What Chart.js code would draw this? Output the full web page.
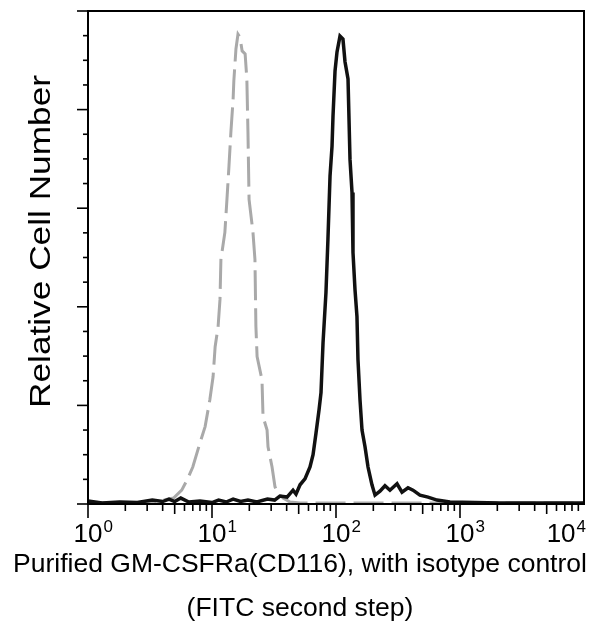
<!DOCTYPE html>
<html lang="en">
<head>
    <meta charset="UTF-8">
    <title>Purified GM-CSFRa(CD116), with isotype control</title>
    <script src="https://cdn.jsdelivr.net/npm/chart.js"></script>
    <style>
        body {
            margin: 0;
            padding: 0;
            background-color: #ffffff;
        }
        canvas {
            display: block;
        }
    </style>
</head>
<body>
    <canvas id="histChart" width="600" height="627"></canvas>

    <script>
        // Isotype control (grey, dashed)
        const isoFluor = [1, 1.5, 2, 2.6, 3.2, 3.6, 4.0, 4.9, 5.7, 6.3, 7.0, 8.0, 8.8, 9.6, 10.2, 10.6, 11.2, 11.6, 11.8, 12.7,
            13.2, 13.7, 14.2, 14.8, 15.0, 15.6, 16.2, 16.8, 17.5, 18.5, 19.1, 19.5, 19.9, 21.4, 22.2, 22.6, 23.1, 25.3, 25.8,
            27.8, 28.3, 30.5, 32.2, 34.0, 37.4, 42.6, 51.3, 10000];
        const isoCount = [0.3, 0.2, 0.3, 0.2, 0.4, 0.6, 0.8, 1.2, 2.8, 4.9, 7.5, 12.4, 15.7, 21.1, 25.8, 31.9, 36.0, 41.5, 49.6, 55.1,
            61.8, 68.5, 75.4, 82.1, 85.8, 92.3, 95.3, 94.7, 91.9, 91.3, 86.2, 75.4, 61.8, 55.1, 49.6, 36.0, 29.9, 25.2, 17.7,
            15.0, 11.6, 7.5, 3.5, 2.2, 1.2, 0.4, 0.2, 0.2];

        // GM-CSFRa stained (black, solid)
        const cd116Fluor = [1, 1.3, 1.8, 2.5, 3.3, 4.0, 4.5, 5.0, 5.6, 6.5, 8.0, 10.0, 11.3, 13.0, 14.8, 17.0, 19.5, 23.0, 28.0, 32.0,
            35.3, 40.3, 45.0, 47.6, 51.3, 56.2, 61.7, 65.3, 69.0, 73.0, 75.7, 78.6, 83.0, 86.1, 89.5, 92.9, 94.6, 98.2, 101.9,
            107.7, 113.8, 118.2, 125.0, 129.7, 134.6, 137.1, 142.3, 147.6, 150.4, 156.2, 162.1, 171.4, 181.2, 195.0, 206.4,
            226.3, 248.3, 272.3, 310.5, 340.6, 380.9, 417.8, 475.4, 552.1, 652.6, 830, 2100, 10000];
        const cd116Count = [0.6, 0.2, 0.4, 0.3, 0.8, 0.5, 1.0, 0.5, 1.2, 0.4, 0.6, 0.3, 0.8, 0.4, 1.0, 0.5, 0.8, 0.4, 1.0, 0.8,
            1.6, 1.4, 2.8, 2.0, 3.9, 5.1, 7.5, 10.0, 14.4, 19.1, 22.6, 32.7, 42.9, 53.7, 66.5, 72.6, 78.7, 87.8, 91.7,
            94.9, 94.3, 89.7, 86.2, 69.9, 63.2, 51.0, 43.5, 38.0, 29.3, 21.1, 15.0, 11.6, 7.5, 3.9, 1.8,
            2.6, 3.7, 2.8, 4.1, 2.4, 3.3, 2.8, 1.8, 1.4, 0.8, 0.4, 0.2, 0.2];

        // Axis ticks and labels
        const xDecades = [1, 10, 100, 1000, 10000];
        const xDecadeExp = ['0', '1', '2', '3', '4'];
        const yMajorTicks = [0, 20, 40, 60, 80, 100];
        const yMinorTicks = [5, 10, 15, 25, 30, 35, 45, 50, 55, 65, 70, 75, 85, 90, 95];
        const xTitle = ['Purified GM-CSFRa(CD116), with isotype control', '(FITC second step)'];
        const yTitle = 'Relative Cell Number';

        const FONT = '"Liberation Sans", Arial, Helvetica, sans-serif';

        const toPoints = (xs, ys) => xs.map((v, i) => ({ x: v, y: ys[i] }));

        // Frame, tick marks and text drawn against the chart's scales
        const flowAxes = {
            id: 'flowAxes',
            afterDraw(chart) {
                const { ctx, chartArea: a, scales: { x, y } } = chart;
                const seg = (x1, y1, x2, y2) => {
                    ctx.beginPath();
                    ctx.moveTo(x1, y1);
                    ctx.lineTo(x2, y2);
                    ctx.stroke();
                };
                ctx.save();
                ctx.strokeStyle = '#000';
                ctx.fillStyle = '#000';

                // box
                ctx.lineWidth = 2;
                ctx.strokeRect(a.left, a.top, a.right - a.left, a.bottom - a.top);

                // y ticks (no labels)
                ctx.lineWidth = 1.6;
                yMajorTicks.forEach(v => {
                    const py = y.getPixelForValue(v);
                    seg(a.left - 11, py, a.left, py);
                });
                yMinorTicks.forEach(v => {
                    const py = y.getPixelForValue(v);
                    seg(a.left - 5, py, a.left, py);
                });

                // x ticks: decades long, 5x medium, others short (none under the right corner)
                xDecades.forEach((d, i) => {
                    if (i === xDecades.length - 1) return;
                    const px = x.getPixelForValue(d);
                    seg(px, a.bottom, px, a.bottom + 14);
                    for (let m = 2; m <= 9; m++) {
                        const pm = x.getPixelForValue(d * m);
                        seg(pm, a.bottom, pm, a.bottom + (m === 5 ? 10 : 7));
                    }
                });

                // decade labels 10^n
                xDecades.forEach((d, i) => {
                    const px = x.getPixelForValue(d);
                    ctx.textBaseline = 'alphabetic';
                    ctx.textAlign = 'left';
                    ctx.font = '26px ' + FONT;
                    const w = ctx.measureText('10').width;
                    ctx.font = '17px ' + FONT;
                    const we = ctx.measureText(xDecadeExp[i]).width;
                    let left = px - w / 2;
                    if (left + w + 1 + we > a.right + 2) left = a.right + 2 - (w + 1 + we);
                    ctx.font = '26px ' + FONT;
                    ctx.fillText('10', left, 542);
                    ctx.font = '17px ' + FONT;
                    ctx.fillText(xDecadeExp[i], left + w + 1, 532);
                });

                // x title (centred on the page)
                ctx.font = '26.5px ' + FONT;
                ctx.textAlign = 'center';
                ctx.fillText(xTitle[0], chart.width / 2, 572);
                ctx.fillText(xTitle[1], chart.width / 2, 616);

                // y title, rotated and a little stretched like the original
                ctx.save();
                ctx.translate(40, 241.5);
                ctx.rotate(-Math.PI / 2);
                ctx.font = '29px ' + FONT;
                const tw = ctx.measureText(yTitle).width;
                ctx.scale(333 / tw, 1);
                ctx.textAlign = 'center';
                ctx.fillText(yTitle, 0, 10);
                ctx.restore();

                ctx.restore();
            }
        };

        const ctx = document.getElementById('histChart').getContext('2d');
        const histChart = new Chart(ctx, {
            type: 'line',
            data: {
                datasets: [{
                    label: 'GM-CSFRa (CD116)',
                    data: toPoints(cd116Fluor, cd116Count),
                    borderColor: '#111111',
                    borderWidth: 3.5,
                    pointRadius: 0,
                    tension: 0,
                    fill: false,
                    order: 0
                }, {
                    label: 'Isotype control',
                    data: toPoints(isoFluor, isoCount),
                    borderColor: '#a9a9a9',
                    borderWidth: 3,
                    borderDash: [30, 8],
                    pointRadius: 0,
                    tension: 0,
                    fill: false,
                    order: 1
                }]
            },
            options: {
                responsive: false,
                animation: false,
                devicePixelRatio: 1,
                layout: {
                    padding: { left: 88, right: 16, top: 11, bottom: 123 }
                },
                plugins: {
                    legend: { display: false },
                    tooltip: { enabled: false }
                },
                scales: {
                    x: {
                        type: 'logarithmic',
                        min: 1,
                        max: 10000,
                        display: false
                    },
                    y: {
                        type: 'linear',
                        min: 0,
                        max: 100,
                        display: false
                    }
                }
            },
            plugins: [flowAxes]
        });
    </script>
</body>
</html>
